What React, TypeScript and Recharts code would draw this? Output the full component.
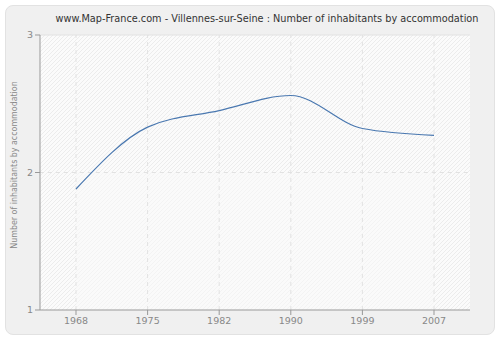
import React from "react";
import { LineChart, Line, XAxis, YAxis, CartesianGrid, ReferenceArea, ReferenceLine } from "recharts";

const years = ["1968", "1975", "1982", "1990", "1999", "2007"];
const inhabitants = [1.88, 2.33, 2.45, 2.56, 2.32, 2.27];
const yTicks = [1, 2, 3];
const title = "www.Map-France.com - Villennes-sur-Seine : Number of inhabitants by accommodation";
const yLabel = "Number of inhabitants by accommodation";

const data = years.map((y, i) => ({ year: y, value: inhabitants[i] }));

const FONT = "DejaVu Sans, Verdana, sans-serif";
const CFONT = "DejaVu Sans Condensed, DejaVu Sans, sans-serif";
const GRID = "#e2e2e2";

export default function App() {
  return (
    <div style={{ position: "absolute", left: 0, top: 0, width: 500, height: 340, background: "#fff" }}>
      <div
        style={{
          position: "absolute",
          left: 5,
          top: 5,
          width: 488,
          height: 328,
          background: "#f0f0f0",
          border: "1px solid #e2e2e2",
          borderRadius: 8,
        }}
      />
      <div style={{ position: "absolute", left: 0, top: 0 }}>
        <LineChart width={500} height={340} data={data} margin={{ top: 35, right: 30, bottom: 0, left: 0 }}>
          <defs>
            <pattern id="hatch" patternUnits="userSpaceOnUse" width="4" height="4">
              <rect width="4" height="4" fill="#fbfbfb" />
              <path d="M-1,1 l2,-2 M0,4 l4,-4 M3,5 l2,-2" stroke="#ececec" strokeWidth="1" />
            </pattern>
            <pattern id="hatch2" patternUnits="userSpaceOnUse" width="4" height="4">
              <rect width="4" height="4" fill="#fafafa" />
              <path d="M-1,1 l2,-2 M0,4 l4,-4 M3,5 l2,-2" stroke="#f3f3f3" strokeWidth="1" />
            </pattern>
          </defs>
          <text x={267} y={22} textAnchor="middle" fontFamily={CFONT} fontSize={10.8} fill="#333">
            {title}
          </text>
          <CartesianGrid fill="url(#hatch)" stroke="none" />
          <ReferenceArea y1={1} y2={2} fill="url(#hatch2)" fillOpacity={1} stroke="none" />
          {years.map((y) => (
            <ReferenceLine key={y} x={y} stroke={GRID} strokeDasharray="4 4" />
          ))}
          <ReferenceLine y={2} stroke={GRID} strokeDasharray="4 4" />
          <ReferenceLine y={3} stroke={GRID} />
          <XAxis
            dataKey="year"
            height={30}
            padding={{ left: 36, right: 36 }}
            stroke="#999"
            tickSize={5}
            tick={{ fill: "#888", fontSize: 9.5, fontFamily: FONT }}
            tickLine={{ stroke: "#999" }}
          />
          <YAxis
            type="number"
            domain={[1, 3]}
            ticks={yTicks}
            width={40}
            stroke="#999"
            tickSize={5}
            tick={{ fill: "#888", fontSize: 9.5, fontFamily: FONT }}
            label={{
              content: () => (
                <text
                  x={17}
                  y={165}
                  transform="rotate(-90 17 165)"
                  textAnchor="middle"
                  fontFamily={CFONT}
                  fontSize={8.8}
                  fill="#888"
                >
                  {yLabel}
                </text>
              ),
            }}
          />
          <Line
            type="monotoneX"
            dataKey="value"
            stroke="#4a78b0"
            strokeWidth={1.2}
            dot={false}
            isAnimationActive={false}
          />
        </LineChart>
      </div>
    </div>
  );
}
